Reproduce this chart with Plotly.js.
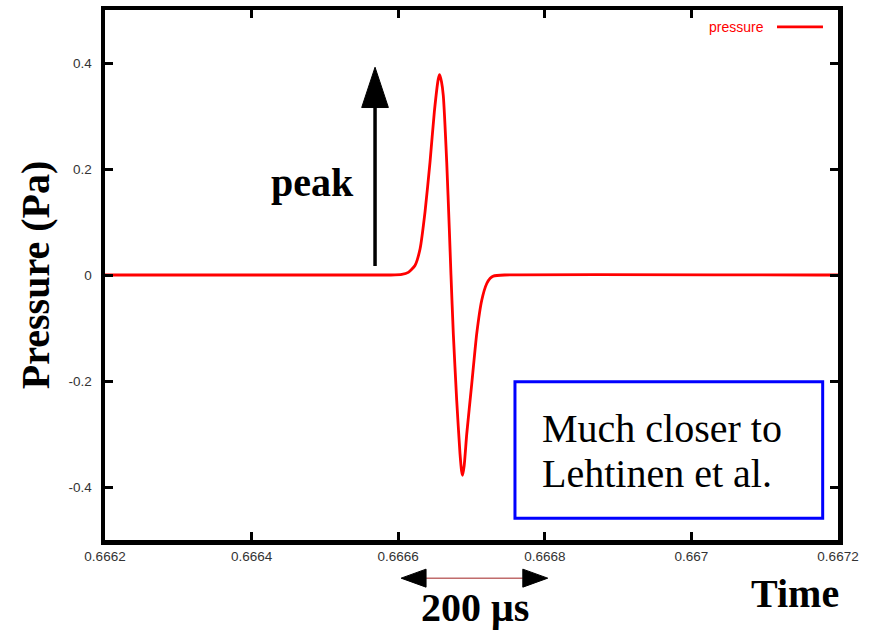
<!DOCTYPE html>
<html>
<head>
<meta charset="utf-8">
<script src="https://cdn.plot.ly/plotly-3.0.1.min.js"></script>
<style>html,body{margin:0;padding:0;background:#fff;}#chart{width:874px;height:631px;}</style>
</head>
<body>
<div id="chart"></div>
<script>
// Time (s) and pressure (Pa)
var time = [0.6662, 0.66659, 0.666605, 0.6666138, 0.6666229, 0.6666298, 0.6666366, 0.6666434,
            0.6666493, 0.6666547, 0.6666565, 0.666659, 0.6666615, 0.6666662, 0.6666697, 0.666672,
            0.6666752, 0.6666798, 0.6666843, 0.6666865, 0.6666878, 0.66669, 0.6666935, 0.6667003,
            0.6667071, 0.6667139, 0.6667208, 0.6667255, 0.6667298, 0.666745, 0.6672];
var pressure = [0, 0, 0.001, 0.005, 0.018, 0.049, 0.119, 0.213,
                0.308, 0.370, 0.378, 0.365, 0.339, 0.213, 0.088, 0,
                -0.111, -0.236, -0.337, -0.370, -0.378, -0.360, -0.300, -0.206,
                -0.111, -0.048, -0.016, -0.006, -0.002, 0, 0];

var xTickVals = [0.6662, 0.6664, 0.6666, 0.6668, 0.667, 0.6672];
var xTickText = ['0.6662', '0.6664', '0.6666', '0.6668', '0.667', '0.6672'];
var yTickVals = [-0.4, -0.2, 0, 0.2, 0.4];
var yTickText = ['-0.4', '-0.2', '0', '0.2', '0.4'];

var seriesName = 'pressure';
var yTitle = 'Pressure (Pa)';
var xTitle = 'Time';
var peakLabel = 'peak';
var spanLabel = '200 \u03bcs';
var noteLines = ['Much closer to', 'Lehtinen et al.'];

// peak arrow (data coordinates)
var peakArrowX = 0.6665684;
var peakArrowBottom = 0.017;
var peakArrowTip = 0.392;
var peakHeadBase = 0.316;
var peakHeadHalf = 0.0000182;
// 200 us span (data x)
var spanStart = 0.6666, spanEnd = 0.6668;

var serif = 'Liberation Serif, Times New Roman, serif';
var sans = 'Liberation Sans, Arial, sans-serif';

var trace = {
  x: time, y: pressure, type: 'scatter', mode: 'lines', name: seriesName,
  line: {color: '#ff0000', width: 2.8, shape: 'spline', smoothing: 0.5},
  hoverinfo: 'x+y'
};

var spanY = -0.072, headH = 0.017;
var s0 = spanStart + 0.000004, s1 = spanEnd + 0.000004;
var hb = 0.000034;

var layout = {
  width: 874, height: 631,
  margin: {l: 105, r: 36, t: 10, b: 91},
  paper_bgcolor: '#ffffff', plot_bgcolor: '#ffffff',
  showlegend: false,
  xaxis: {
    range: [0.6662, 0.6672], tickvals: xTickVals, ticktext: xTickText,
    showgrid: false, zeroline: false,
    showline: true, linecolor: '#000', linewidth: 4.5, mirror: 'ticks',
    ticks: 'inside', ticklen: 8, tickwidth: 3, tickcolor: '#000',
    tickfont: {family: sans, size: 13.5, color: '#333'}
  },
  yaxis: {
    range: [-0.5, 0.5], tickvals: yTickVals, ticktext: yTickText,
    showgrid: false, zeroline: false,
    showline: true, linecolor: '#000', linewidth: 4.5, mirror: 'ticks',
    ticks: 'inside', ticklen: 8, tickwidth: 3, tickcolor: '#000',
    ticklabelstandoff: 6,
    tickfont: {family: sans, size: 13.5, color: '#333'},
    title: {text: '<b>' + yTitle + '</b>', font: {family: serif, size: 40, color: '#000'}, standoff: 8}
  },
  shapes: [
    // legend sample line
    {type: 'line', xref: 'paper', yref: 'paper', x0: 0.9168, x1: 0.9795, y0: 0.968, y1: 0.968,
     line: {color: '#ff0000', width: 2.8}},
    // note box
    {type: 'rect', xref: 'paper', yref: 'paper', x0: 0.5593, x1: 0.9791, y0: 0.0409, y1: 0.2987,
     line: {color: '#0000ff', width: 3}, fillcolor: 'rgba(0,0,0,0)'},
    // peak arrow shaft
    {type: 'line', xref: 'x', yref: 'y', x0: peakArrowX, x1: peakArrowX, y0: peakArrowBottom, y1: peakHeadBase + 0.01,
     line: {color: '#000', width: 3.5}},
    // peak arrow head
    {type: 'path', xref: 'x', yref: 'y',
     path: 'M' + (peakArrowX - peakHeadHalf) + ',' + peakHeadBase + ' L' + peakArrowX + ',' + peakArrowTip +
           ' L' + (peakArrowX + peakHeadHalf) + ',' + peakHeadBase + ' Z',
     fillcolor: '#000', line: {color: '#000', width: 1}},
    // span line
    {type: 'line', xref: 'x', yref: 'paper', x0: s0 + hb, x1: s1 - hb, y0: spanY, y1: spanY,
     line: {color: '#a02020', width: 1}},
    // span heads
    {type: 'path', xref: 'x', yref: 'paper',
     path: 'M' + s0 + ',' + spanY + ' L' + (s0 + hb) + ',' + (spanY + headH) + ' L' + (s0 + hb) + ',' + (spanY - headH) + ' Z',
     fillcolor: '#000', line: {color: '#000', width: 1}},
    {type: 'path', xref: 'x', yref: 'paper',
     path: 'M' + s1 + ',' + spanY + ' L' + (s1 - hb) + ',' + (spanY + headH) + ' L' + (s1 - hb) + ',' + (spanY - headH) + ' Z',
     fillcolor: '#000', line: {color: '#000', width: 1}}
  ],
  annotations: [
    {xref: 'paper', yref: 'paper', x: 0.9018, y: 0.968, xanchor: 'right', yanchor: 'middle',
     text: seriesName, showarrow: false, font: {family: sans, size: 14, color: '#ff0000'}},
    {xref: 'paper', yref: 'paper', x: 0.2831, y: 0.6736, xanchor: 'center', yanchor: 'middle',
     text: '<b>' + peakLabel + '</b>', showarrow: false, font: {family: serif, size: 40, color: '#000'}},
    {xref: 'paper', yref: 'paper', x: 0.5935, y: 0.2113, xanchor: 'left', yanchor: 'middle',
     text: noteLines[0], showarrow: false, font: {family: serif, size: 40, color: '#000'}},
    {xref: 'paper', yref: 'paper', x: 0.5935, y: 0.1264, xanchor: 'left', yanchor: 'middle',
     text: noteLines[1], showarrow: false, font: {family: serif, size: 40, color: '#000'}},
    {xref: 'paper', yref: 'paper', x: 0.942, y: -0.10, xanchor: 'center', yanchor: 'middle',
     text: '<b>' + xTitle + '</b>', showarrow: false, font: {family: serif, size: 40, color: '#000'}},
    {xref: 'paper', yref: 'paper', x: 0.5048, y: -0.128, xanchor: 'center', yanchor: 'middle',
     text: '<b>' + spanLabel + '</b>', showarrow: false, font: {family: serif, size: 40, color: '#000'}}
  ]
};

Plotly.newPlot('chart', [trace], layout, {staticPlot: true, displayModeBar: false});
</script>
</body>
</html>
